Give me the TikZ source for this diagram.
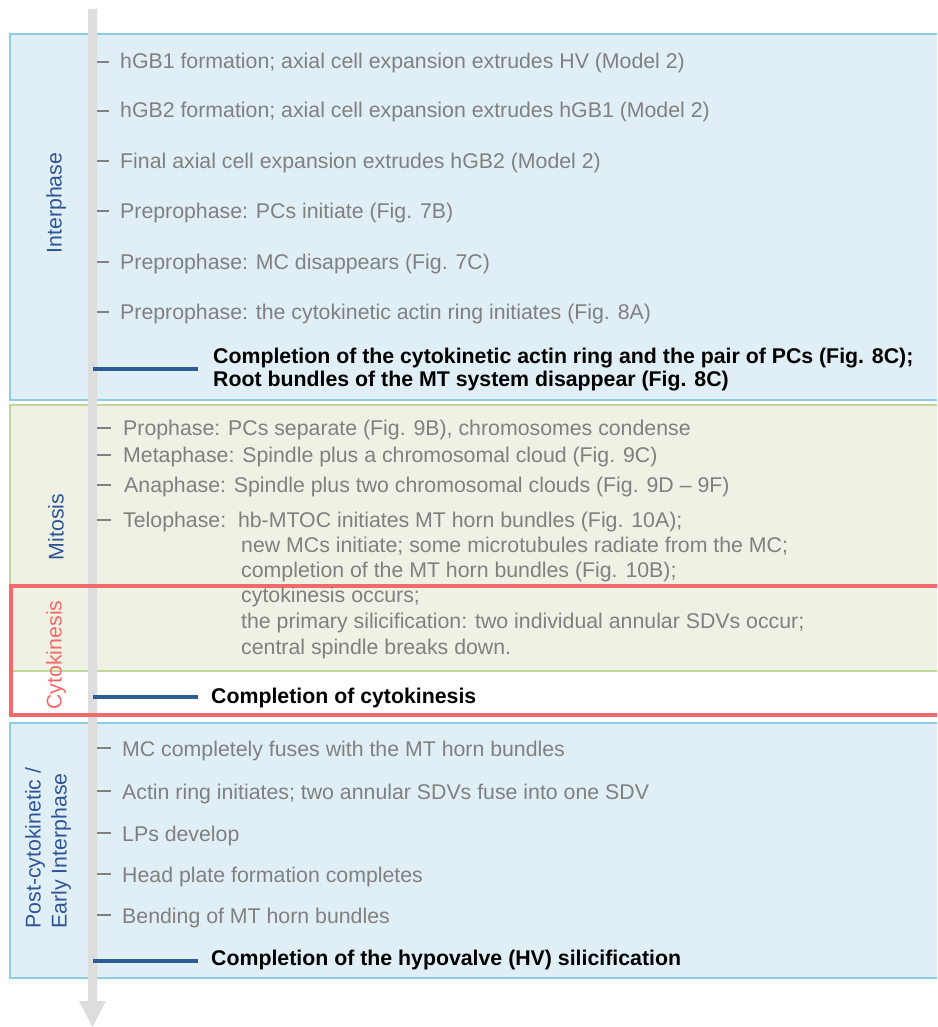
\documentclass[tikz,border=0pt]{standalone}
\usepackage{fontspec}
\setmainfont{Liberation Sans}
\definecolor{bluefill}{RGB}{224,239,245}
\definecolor{blueedge}{RGB}{140,205,225}
\definecolor{greenfill}{RGB}{238,241,227}
\definecolor{greenedge}{RGB}{195,214,155}
\definecolor{rededge}{RGB}{244,106,106}
\definecolor{axisgray}{RGB}{221,221,221}
\definecolor{txtgray}{RGB}{128,128,128}
\definecolor{labblue}{RGB}{47,85,151}
\definecolor{markblue}{RGB}{46,92,150}
\tikzset{
  phasebox/.style={line width=1.5pt},
  evt/.style={anchor=base west, text=txtgray, font=\fontsize{21.3}{25}\selectfont, inner sep=0pt},
  milestone/.style={anchor=base west, text=black, font=\bfseries\fontsize{21.3}{25}\selectfont, inner sep=0pt, align=left},
  evttick/.style={draw=txtgray, line width=1.2pt},
  msline/.style={draw=markblue, line width=3.5pt},
  phaselabel/.style={rotate=90, font=\fontsize{21.3}{26}\selectfont, inner sep=0pt, align=left}
}
\begin{document}
\begin{tikzpicture}[x=1pt,y=-1pt]
\useasboundingbox (0,0) rectangle (937,1027);
\clip (0,0) rectangle (937,1027);
\fill[white] (0,0) rectangle (937,1027);

% phase boxes
\draw[phasebox, fill=bluefill, draw=blueedge] (10,34) rectangle (945,400);
\draw[phasebox, fill=greenfill, draw=greenedge] (10,405) rectangle (945,671);
\draw[phasebox, fill=bluefill, draw=blueedge] (10,723) rectangle (945,978);

% time axis
\fill[axisgray] (88,9) -- (97,9) -- (97,1001) -- (106,1001) -- (92.5,1027) -- (79,1001) -- (88,1001) -- cycle;

% cytokinesis frame
\draw[draw=rededge, line width=4pt] (10.5,585.5) rectangle (945,714.5);

% phase labels
\node[phaselabel, text=labblue] (lInter) at (56,203) {Interphase};
\node[phaselabel, text=labblue] (lMito) at (56,527) {Mitosis};
\node[phaselabel, text=rededge] (lCyto) at (56,655) {Cytokinesis};
\node[phaselabel, text=labblue] (lPost) at (48,848) {Post-cytokinetic /\\Early Interphase};

% Interphase events
\foreach \n/\y/\t in {
  i1/69/{hGB1 formation; axial cell expansion extrudes HV (Model 2)},
  i2/118/{hGB2 formation; axial cell expansion extrudes hGB1 (Model 2)},
  i3/168/{Final axial cell expansion extrudes hGB2 (Model 2)},
  i4/218/{Preprophase: PCs initiate (Fig. 7B)},
  i5/269/{Preprophase: MC disappears (Fig. 7C)},
  i6/319/{Preprophase: the cytokinetic actin ring initiates (Fig. 8A)}}{
  \node[evt] (\n) at (120,\y) {\t};
  \coordinate (\n a) at (97,\y-7);
  \coordinate (\n b) at (109,\y-7);
  \draw[evttick] (\n a) -- (\n b);
}
\node[milestone] (m1) at (213,363) {Completion of the cytokinetic actin ring and the pair of PCs (Fig. 8C);};
\node[milestone] (m1b) at (213,386) {Root bundles of the MT system disappear (Fig. 8C)};
\coordinate (m1a) at (93,369);
\coordinate (m1e) at (198,369);
\draw[msline] (m1a) -- (m1e);

% Mitosis events
\foreach \n/\y/\x/\t in {
  p1/435/123/{Prophase: PCs separate (Fig. 9B), chromosomes condense},
  p2/462/123/{Metaphase: Spindle plus a chromosomal cloud (Fig. 9C)},
  p3/492/124/{Anaphase: Spindle plus two chromosomal clouds (Fig. 9D -- 9F)},
  p4/527/123/{Telophase:\ \ hb-MTOC initiates MT horn bundles (Fig. 10A);}}{
  \node[evt] (\n) at (\x,\y) {\t};
  \coordinate (\n a) at (97,\y-7);
  \coordinate (\n b) at (111,\y-7);
  \draw[evttick] (\n a) -- (\n b);
}
\foreach \n/\y/\t in {
  t1/552/{new MCs initiate; some microtubules radiate from the MC;},
  t2/577/{completion of the MT horn bundles (Fig. 10B);},
  t3/602/{cytokinesis occurs;},
  t4/628/{the primary silicification: two individual annular SDVs occur;},
  t5/654/{central spindle breaks down.}}{
  \node[evt] (\n) at (241,\y) {\t};
}
\node[milestone] (m2) at (211,703) {Completion of cytokinesis};
\coordinate (m2a) at (93,697);
\coordinate (m2e) at (198,697);
\draw[msline] (m2a) -- (m2e);

% Post-cytokinetic events
\foreach \n/\y/\t in {
  q1/756/{MC completely fuses with the MT horn bundles},
  q2/799/{Actin ring initiates; two annular SDVs fuse into one SDV},
  q3/841/{LPs develop},
  q4/882/{Head plate formation completes},
  q5/923/{Bending of MT horn bundles}}{
  \node[evt] (\n) at (122,\y) {\t};
  \coordinate (\n a) at (97,\y-8);
  \coordinate (\n b) at (111,\y-8);
  \draw[evttick] (\n a) -- (\n b);
}
\node[milestone] (m3) at (211,965) {Completion of the hypovalve (HV) silicification};
\coordinate (m3a) at (93,961);
\coordinate (m3e) at (198,961);
\draw[msline] (m3a) -- (m3e);
\end{tikzpicture}
\end{document}
